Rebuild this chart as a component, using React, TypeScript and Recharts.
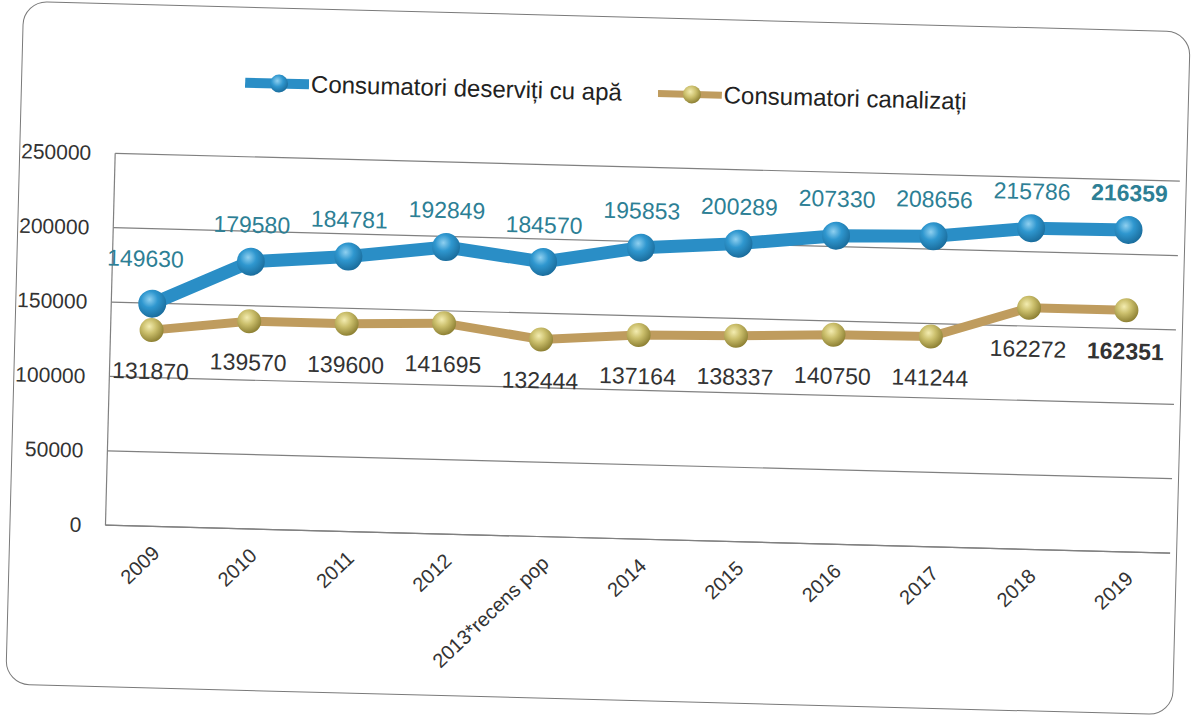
import React from "react";
import { CartesianGrid, LabelList, Line, LineChart, XAxis, YAxis } from "recharts";

const years = ["2009", "2010", "2011", "2012", "2013*recens pop", "2014", "2015", "2016", "2017", "2018", "2019"];
const apa = [149630, 179580, 184781, 192849, 184570, 195853, 200289, 207330, 208656, 215786, 216359];
const canal = [131870, 139570, 139600, 141695, 132444, 137164, 138337, 140750, 141244, 162272, 162351];
const yTicks = [0, 50000, 100000, 150000, 200000, 250000];

const SERIES = [
  { key: "apa", name: "Consumatori deserviți cu apă", line: "#2a8ec6", dot: "url(#gBlue)" },
  { key: "canal", name: "Consumatori canalizați", line: "#bf9c5e", dot: "url(#gGold)" },
];

const data = years.map((year, i) => ({ year, apa: apa[i], canal: canal[i] }));
const FONT = '"Liberation Sans", Arial, sans-serif';
const last = years.length - 1;

function YearTick({ x, y, payload }: any) {
  return (
    <g transform={`translate(${x + 15},${y + 20})`}>
      <text textAnchor="end" transform="rotate(-45)" fontSize={20} fill="#333" fontFamily={FONT}>
        {payload.value}
      </text>
    </g>
  );
}

function blueLabel(p: any) {
  const dx = p.index === 0 ? -8 : 0;
  const dy = p.index === 0 ? -37 : -29;
  return (
    <text x={p.x + dx} y={p.y + dy} textAnchor="middle" fontSize={23} fill="#2d7f95"
      fontWeight={p.index === last ? "bold" : "normal"} fontFamily={FONT}>
      {p.value}
    </text>
  );
}

function goldLabel(p: any) {
  return (
    <text x={p.x} y={p.y + 49} textAnchor="middle" fontSize={23} fill="#333"
      fontWeight={p.index === last ? "bold" : "normal"} fontFamily={FONT}>
      {p.value}
    </text>
  );
}

function Icon({ color, grad, thick }: { color: string; grad: string; thick: number }) {
  return (
    <svg width={64} height={22} style={{ display: "block" }}>
      <line x1={0} y1={11} x2={64} y2={11} stroke={color} strokeWidth={thick} />
      <circle cx={34} cy={11} r={9} fill={`url(#${grad})`} />
    </svg>
  );
}

function LegendBox() {
  return (
    <div style={{ position: "absolute", left: 238, top: 78, display: "flex", alignItems: "center", fontFamily: FONT, fontSize: 24, color: "#222" }}>
      <Icon color={SERIES[0].line} grad="gBlueL" thick={10} />
      <span style={{ marginLeft: 2 }}>{SERIES[0].name}</span>
      <span style={{ width: 36 }} />
      <Icon color={SERIES[1].line} grad="gGoldL" thick={7} />
      <span style={{ marginLeft: 2 }}>{SERIES[1].name}</span>
      <svg width={0} height={0} style={{ position: "absolute" }}>
        <defs>
          <radialGradient id="gBlueL" cx="40%" cy="35%" r="65%">
            <stop offset="0%" stopColor="#8fd0f0" />
            <stop offset="50%" stopColor="#2f97cf" />
            <stop offset="100%" stopColor="#1b6e9e" />
          </radialGradient>
          <radialGradient id="gGoldL" cx="40%" cy="35%" r="65%">
            <stop offset="0%" stopColor="#f3ecb0" />
            <stop offset="50%" stopColor="#cbbf6c" />
            <stop offset="100%" stopColor="#8f8235" />
          </radialGradient>
        </defs>
      </svg>
    </div>
  );
}

export default function App() {
  return (
    <div style={{ position: "absolute", left: 0, top: 0, width: 1193, height: 715, background: "#fff", overflow: "hidden" }}>
      <div style={{ position: "absolute", left: 0, top: 0, width: 1193, height: 715, transform: "rotate(1.5deg)", transformOrigin: "597px 358px" }}>
        <div style={{ position: "absolute", left: 14, top: 16, width: 1166, height: 682, border: "1.5px solid #7a7a7a", borderRadius: 24 }} />
        <LegendBox />
        <div style={{ position: "absolute", left: 0, top: 0 }}>
          <LineChart width={1193} height={715} data={data} margin={{ top: 166, right: 18, left: 15, bottom: 17 }}>
            <defs>
              <radialGradient id="gBlue" cx="40%" cy="35%" r="65%">
                <stop offset="0%" stopColor="#8fd0f0" />
                <stop offset="45%" stopColor="#2f97cf" />
                <stop offset="100%" stopColor="#1b6e9e" />
              </radialGradient>
              <radialGradient id="gGold" cx="40%" cy="35%" r="65%">
                <stop offset="0%" stopColor="#f3ecb0" />
                <stop offset="45%" stopColor="#cbbf6c" />
                <stop offset="100%" stopColor="#8f8235" />
              </radialGradient>
            </defs>
            <CartesianGrid vertical={false} stroke="#808080" strokeWidth={1.2} />
            <XAxis dataKey="year" interval={0} height={160} tick={<YearTick />} tickLine={false}
              padding={{ left: 41, right: 50 }}
              axisLine={{ stroke: "#808080", strokeWidth: 1.2 }} />
            <YAxis domain={[0, 250000]} ticks={yTicks} width={95} tickLine={false} tickSize={0} tickMargin={24}
              axisLine={{ stroke: "#808080", strokeWidth: 1.2 }}
              tick={{ fontSize: 21, fill: "#333", fontFamily: FONT }} />
            <Line dataKey="canal" name={SERIES[1].name} stroke={SERIES[1].line} strokeWidth={9}
              isAnimationActive={false} dot={{ r: 12, fill: SERIES[1].dot, stroke: "none" }} activeDot={false}>
              <LabelList dataKey="canal" content={goldLabel} />
            </Line>
            <Line dataKey="apa" name={SERIES[0].name} stroke={SERIES[0].line} strokeWidth={13}
              isAnimationActive={false} dot={{ r: 14, fill: SERIES[0].dot, stroke: "none" }} activeDot={false}>
              <LabelList dataKey="apa" content={blueLabel} />
            </Line>
          </LineChart>
        </div>
      </div>
    </div>
  );
}
